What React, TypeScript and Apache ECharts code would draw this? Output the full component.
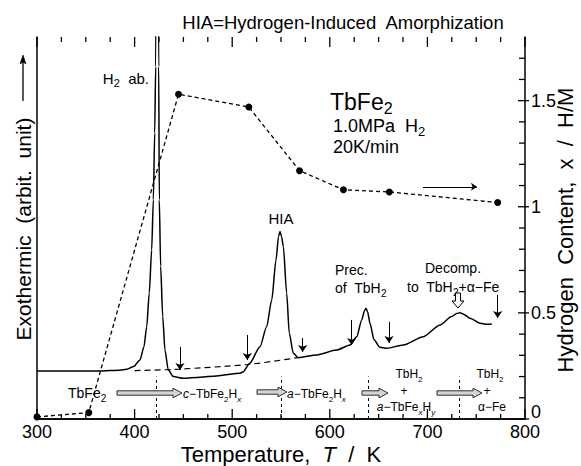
import React, { useEffect, useRef } from "react";
import * as echarts from "echarts";

const FONT = '"Liberation Sans", Arial, Helvetica, sans-serif';

// DSC curve (temperature K, arbitrary exothermic signal on a 0–1.8 scale)
const dscT = [300, 364, 385, 392, 399, 405.5, 409.6, 412.4, 415, 417.5, 419.2, 420.6, 421.6, 423, 424.7, 425.3, 426.7, 428.8, 431.1, 434.5, 439.7, 450, 467, 484, 508, 511, 518, 528.5, 535.3, 540.5, 544.9, 547.5, 549, 550.5, 552.4, 555.8, 558.5, 562.6, 567.7, 586.6, 607, 620.7, 627.6, 632.7, 635.5, 637.1, 638.7, 641.2, 645.3, 651.4, 658.3, 675.3, 695.8, 712.9, 724.9, 730, 733.4, 737, 743.6, 753.9, 760, 766];
const dscV = [0.226, 0.226, 0.23, 0.234, 0.247, 0.278, 0.341, 0.435, 0.593, 0.797, 1.033, 1.349, 1.66, 3.5, 1.66, 1.033, 0.718, 0.483, 0.325, 0.231, 0.2, 0.192, 0.197, 0.203, 0.216, 0.222, 0.263, 0.341, 0.435, 0.561, 0.75, 0.86, 0.884, 0.86, 0.813, 0.593, 0.404, 0.31, 0.289, 0.302, 0.325, 0.349, 0.388, 0.467, 0.51, 0.522, 0.505, 0.451, 0.373, 0.338, 0.333, 0.349, 0.388, 0.443, 0.483, 0.497, 0.501, 0.494, 0.475, 0.451, 0.447, 0.448];

// extrapolated DSC baseline (dashed)
const baseT = [400, 446, 518, 567];
const baseV = [0.228, 0.235, 0.258, 0.289];

// hydrogen content x (H/M)
const h2T = [300, 353, 445, 517, 569, 614, 661, 772];
const h2X = [0.01, 0.03, 1.53, 1.47, 1.17, 1.08, 1.07, 1.02];

// small down arrows marking DSC points
const arrowT = [446.5, 515.5, 572.2, 622.4, 660.7, 772];
const arrowTop = [0.34, 0.396, 0.382, 0.467, 0.458, 0.585];
const arrowBot = [0.231, 0.278, 0.316, 0.349, 0.358, 0.476];

// phase boundaries (dashed verticals)
const boundaryT = [422.6, 550, 639, 733];

// direction arrow for hydrogen curve
const h2ArrowT = [695.5, 750.8];
const h2ArrowX = 1.094;

// axis ticks
const xMin = 300;
const xMax = 800;
const yMax = 1.8;
const xMajorTicks = [300, 400, 500, 600, 700, 800];
const xMinorTicks = [325, 350, 375, 425, 450, 475, 525, 550, 575, 625, 650, 675, 725, 750, 775];
const yMajorTicks = [0, 0.5, 1, 1.5];
const yMinorTicks = [0.1, 0.2, 0.3, 0.4, 0.6, 0.7, 0.8, 0.9, 1.1, 1.2, 1.3, 1.4, 1.6, 1.7];

function rich(f: number, lh?: number) {
  const sf = Math.round(f * 0.7);
  const L = lh ?? f + 6;
  return {
    n: { fontSize: f, lineHeight: L, fontFamily: FONT },
    i: { fontSize: f, lineHeight: L, fontFamily: FONT, fontStyle: "italic" },
    s: { fontSize: sf, lineHeight: sf, fontFamily: FONT, verticalAlign: "bottom" },
    si: { fontSize: sf, lineHeight: sf, fontFamily: FONT, verticalAlign: "bottom", fontStyle: "italic" },
  };
}

function txt(text: string, x: number, y: number, f: number, align = "left", extra: any = {}, lh?: number) {
  return {
    type: "text",
    x,
    y,
    z: 100,
    silent: true,
    ...extra,
    style: {
      text,
      rich: rich(f, lh),
      fontSize: f,
      fontFamily: FONT,
      fill: "#000",
      align,
      verticalAlign: "middle",
    },
  };
}

function hollowArrow(x0: number, x1: number, y: number) {
  const h = 9;
  return {
    type: "polygon",
    z: 90,
    silent: true,
    shape: {
      points: [
        [x0, y - 2.2],
        [x1 - h, y - 2.2],
        [x1 - h, y - 4.8],
        [x1, y],
        [x1 - h, y + 4.8],
        [x1 - h, y + 2.2],
        [x0, y + 2.2],
      ],
    },
    style: { fill: "#d4d4d4", stroke: "#000", lineWidth: 0.8 },
  };
}

// tick items: [value, kind]  kind 0 x-major, 1 x-minor, 2 y-major, 3 y-minor
const tickItems: number[][] = [
  ...xMajorTicks.map((v) => [v, 0]),
  ...xMinorTicks.map((v) => [v, 1]),
  ...yMajorTicks.map((v) => [v, 2]),
  ...yMinorTicks.map((v) => [v, 3]),
];

export default function App() {
  const ref = useRef<HTMLDivElement>(null);
  useEffect(() => {
    document.body.style.margin = "0";
    const chart = echarts.init(ref.current!, null, { renderer: "svg" });
    const axisLine = { show: true, lineStyle: { color: "#000", width: 1.5 } };
    const noTick = { show: false };
    const option: any = {
      animation: false,
      backgroundColor: "#fff",
      grid: { left: 37, right: 56, top: 37, bottom: 47 },
      xAxis: [
        {
          type: "value",
          position: "bottom",
          min: xMin,
          max: xMax,
          interval: 100,
          axisLine,
          axisTick: noTick,
          axisLabel: { color: "#000", fontSize: 18, fontFamily: FONT, margin: 6, lineHeight: 14 },
          splitLine: { show: false },
        },
        {
          type: "value",
          position: "top",
          min: xMin,
          max: xMax,
          interval: 100,
          axisLine,
          axisTick: noTick,
          axisLabel: { show: false },
          splitLine: { show: false },
        },
      ],
      yAxis: [
        {
          type: "value",
          position: "left",
          min: 0,
          max: yMax,
          axisLine,
          axisTick: noTick,
          axisLabel: { show: false },
          splitLine: { show: false },
        },
        {
          type: "value",
          position: "right",
          min: 0,
          max: yMax,
          interval: 0.5,
          axisLine,
          axisTick: noTick,
          axisLabel: {
            color: "#000",
            fontSize: 18,
            fontFamily: FONT,
            margin: 6,
            showMaxLabel: false,
            lineHeight: 13,
            formatter: (v: number) => (v === 0 ? "{z|0}" : String(v)),
            rich: { z: { fontSize: 18, fontFamily: FONT, lineHeight: 13, padding: [0, 0, 15, 0] } },
          },
          splitLine: { show: false },
        },
      ],
      series: [
        {
          type: "custom",
          name: "ticks",
          xAxisIndex: 0,
          yAxisIndex: 0,
          silent: true,
          clip: false,
          z: 10,
          data: tickItems,
          renderItem: (_p: any, api: any) => {
            const v = api.value(0);
            const k = api.value(1);
            const st = { stroke: "#000", lineWidth: 1.3 };
            if (k === 0 || k === 1) {
              const len = k === 0 ? 10 : 5;
              const b = api.coord([v, 0]);
              const t = api.coord([v, yMax]);
              return {
                type: "group",
                children: [
                  { type: "line", shape: { x1: b[0], y1: b[1], x2: b[0], y2: b[1] - len }, style: st },
                  { type: "line", shape: { x1: t[0], y1: t[1], x2: t[0], y2: t[1] + len }, style: st },
                ],
              };
            }
            const r = api.coord([xMax, v]);
            if (k === 2) {
              return { type: "line", shape: { x1: r[0] - 7, y1: r[1], x2: r[0] + 4, y2: r[1] }, style: st };
            }
            return { type: "line", shape: { x1: r[0] - 6, y1: r[1], x2: r[0], y2: r[1] }, style: st };
          },
        },
        {
          type: "line",
          name: "DSC",
          xAxisIndex: 0,
          yAxisIndex: 0,
          data: dscT.map((t, i) => [t, dscV[i]]),
          showSymbol: false,
          smooth: 0.25,
          smoothMonotone: "x",
          clip: true,
          lineStyle: { color: "#000", width: 1.5 },
          z: 3,
          markLine: {
            silent: true,
            symbol: ["none", "arrow"],
            symbolSize: 7,
            label: { show: false },
            lineStyle: { color: "#000", type: "solid", width: 1 },
            data: arrowT.map((t, i) => [
              { coord: [t, arrowTop[i]] },
              { coord: [t, arrowBot[i]] },
            ]),
          },
        },
        {
          type: "line",
          name: "baseline",
          xAxisIndex: 0,
          yAxisIndex: 0,
          data: baseT.map((t, i) => [t, baseV[i]]),
          showSymbol: false,
          smooth: 0.3,
          lineStyle: { color: "#000", width: 1.2, type: [6, 4] },
          markLine: {
            silent: true,
            symbol: ["none", "none"],
            label: { show: false },
            lineStyle: { color: "#000", type: [3, 3], width: 1 },
            data: boundaryT.map((t) => [{ coord: [t, 0] }, { coord: [t, 0.2] }]),
          },
        },
        {
          type: "line",
          name: "H content",
          xAxisIndex: 0,
          yAxisIndex: 1,
          data: h2T.map((t, i) => [t, h2X[i]]),
          symbol: "circle",
          symbolSize: 7,
          itemStyle: { color: "#000" },
          lineStyle: { color: "#000", width: 1.3, type: [4, 3] },
          z: 4,
          markLine: {
            silent: true,
            symbol: ["none", "arrow"],
            symbolSize: 6,
            label: { show: false },
            lineStyle: { color: "#000", type: "solid", width: 1 },
            data: [[{ coord: [h2ArrowT[0], h2ArrowX] }, { coord: [h2ArrowT[1], h2ArrowX] }]],
          },
        },
      ],
      graphic: [
        txt("{n|HIA=Hydrogen-Induced  Amorphization}", 343, 22, 18.5, "center"),
        txt("{n|H}{s|2}{n|  ab.}", 149, 78, 15, "right"),
        txt("{n|TbFe}{s|2}", 330, 102, 23),
        txt("{n|1.0MPa  H}{s|2}", 333, 126, 18),
        txt("{n|20K/min}", 333, 147, 18),
        txt("{n|HIA}", 281, 218, 15, "center"),
        txt("{n|Prec.}", 335, 270, 14),
        txt("{n|of  TbH}{s|2}", 335, 288, 14),
        txt("{n|Decomp.}", 425, 268, 14),
        txt("{n|to  TbH}{s|2}{n|+α−Fe}", 407, 287, 14),
        txt("{n|TbFe}{s|2}", 68, 393, 14),
        txt("{i|c}{n|−TbFe}{s|2}{n|H}{si|x}", 183, 394, 12),
        txt("{i|a}{n|−TbFe}{s|2}{n|H}{si|x}", 287, 394, 12),
        txt("{n|TbH}{s|2}", 409, 374, 12, "center"),
        txt("{n|+}", 404, 391, 12, "center"),
        txt("{i|a}{n|−TbFe}{si|x}{n|H}{si|y}", 406, 407, 12, "center"),
        txt("{n|TbH}{s|2}", 490, 374, 12, "center"),
        txt("{n|+}", 487, 391, 12, "center"),
        txt("{n|α−Fe}", 492, 407, 12, "center"),
        txt("{n|Exothermic  (arbit.  unit)}", 23, 229, 21, "center", { rotation: Math.PI / 2 }),
        txt("{n|Hydrogen  Content,  x  /  H/M}", 565, 230, 22, "center", { rotation: Math.PI / 2 }),
        txt("{n|Temperature,  }{i|T}{n|  /  K}", 281, 454, 22, "center", {}, 22),
        {
          type: "line",
          z: 100,
          silent: true,
          shape: { x1: 23, y1: 101, x2: 23, y2: 60 },
          style: { stroke: "#000", lineWidth: 1.3 },
        },
        {
          type: "polygon",
          z: 100,
          silent: true,
          shape: { points: [[23, 55], [20, 64], [23, 62], [26, 64]] },
          style: { fill: "#000", stroke: "#000", lineWidth: 0.6 },
        },
        hollowArrow(117, 182, 393),
        hollowArrow(257, 287, 392),
        hollowArrow(362, 388, 393),
        hollowArrow(437, 482, 393),
        {
          type: "polygon",
          z: 100,
          silent: true,
          shape: {
            points: [[455.5, 293], [460.5, 293], [460.5, 301], [464, 301], [458, 308], [452, 301], [455.5, 301]],
          },
          style: { fill: "#fff", stroke: "#000", lineWidth: 1 },
        },
      ],
    };
    chart.setOption(option);
    return () => chart.dispose();
  }, []);
  return <div ref={ref} style={{ width: 581, height: 466 }} />;
}
